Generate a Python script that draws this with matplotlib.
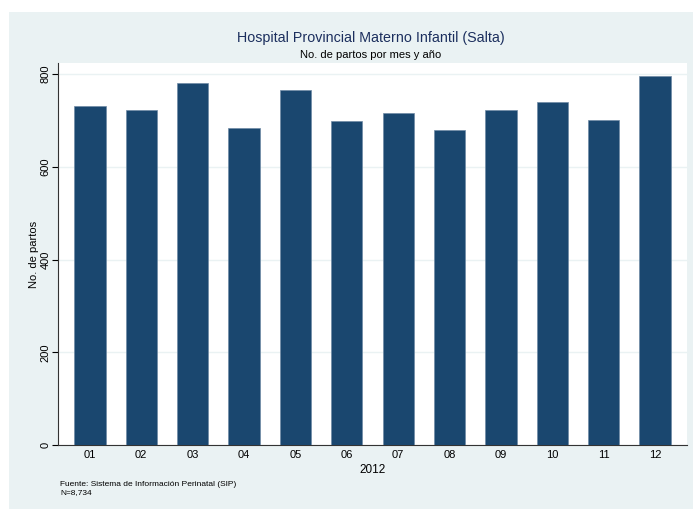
import matplotlib.pyplot as plt
from matplotlib.patches import Rectangle

# datos: partos por mes, 2012
meses = ['01', '02', '03', '04', '05', '06', '07', '08', '09', '10', '11', '12']
partos = [731, 722, 780, 683, 765, 699, 716, 679, 723, 740, 701, 795]

plt.rcParams['font.family'] = ['Liberation Sans', 'DejaVu Sans']

fondo = '#eaf2f3'
azul = '#1a476f'

fig = plt.figure(figsize=(6.93, 5.09), dpi=100)
fig.patch.set_facecolor('white')
# region del grafico (estilo s2color)
fig.patches.append(Rectangle((9 / 693, 0), 1 - 9 / 693, 1 - 12 / 509,
                             transform=fig.transFigure, facecolor=fondo,
                             edgecolor='none', zorder=-10))

ax = fig.add_axes([58 / 693, 1 - 445 / 509, (687 - 58) / 693, (445 - 63) / 509])
ax.set_facecolor('white')

x = list(range(1, len(meses) + 1))
ax.bar(x, partos, width=0.61, color=azul, edgecolor='#6f8aa5', linewidth=0.5, zorder=3)

ax.set_xlim(1 - 0.62, 12 + 0.62)
ax.set_ylim(0, 800 * 382 / 371)
ax.set_yticks([0, 200, 400, 600, 800])
ax.set_yticklabels(['0', '200', '400', '600', '800'], rotation=90, va='center', fontsize=8)
ax.set_xticks(x)
ax.set_xticklabels(meses, fontsize=8)
ax.tick_params(axis='x', length=0, pad=3.5)
ax.tick_params(axis='y', length=4, width=0.8, pad=1.5)
ax.grid(axis='y', color=fondo, linewidth=1, zorder=1)

for s in ['top', 'right']:
    ax.spines[s].set_visible(False)
for s in ['left', 'bottom']:
    ax.spines[s].set_linewidth(0.8)
    ax.spines[s].set_color('#333333')

ax.set_ylabel('No. de partos', fontsize=8, labelpad=1)
ax.set_xlabel('2012', fontsize=8.5, labelpad=3)

fig.text(0.535, 1 - 38 / 509, 'Hospital Provincial Materno Infantil (Salta)',
         ha='center', va='center', fontsize=10.3, color='#1c2f5e')
fig.text(0.535, 1 - 55 / 509, 'No. de partos por mes y año',
         ha='center', va='center', fontsize=8)
fig.text(60 / 693, 1 - 485 / 509, 'Fuente: Sistema de Información Perinatal (SIP)',
         ha='left', va='center', fontsize=6)
fig.text(60 / 693, 1 - 493 / 509, 'N=8,734', ha='left', va='center', fontsize=6)

fig.savefig('out.png', dpi=100)
